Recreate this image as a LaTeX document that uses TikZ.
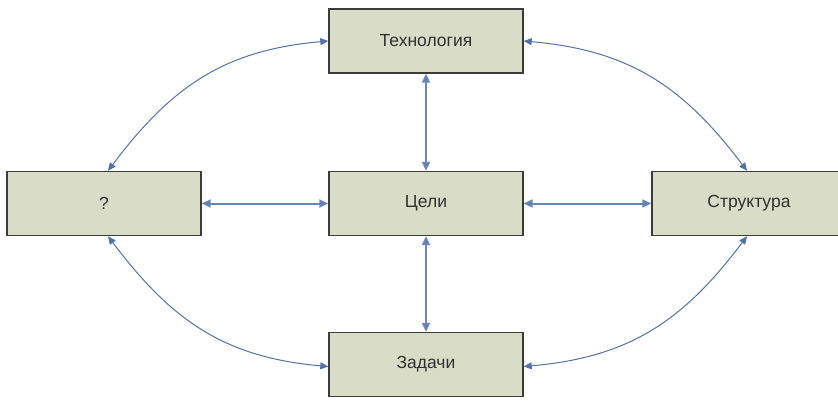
\documentclass[tikz,border=0pt]{standalone}
\usepackage{fontspec}
\setmainfont{Liberation Sans}
\usetikzlibrary{arrows.meta,shadows}
\definecolor{boxfill}{HTML}{D9DCC6}
\definecolor{boxdraw}{HTML}{3C3C3C}
\definecolor{arrowc}{HTML}{5572A8}
\definecolor{linkc}{HTML}{6A86B8}
\definecolor{txt}{HTML}{303030}
\tikzset{
  box/.style={draw=boxdraw, line width=1.4pt, fill=boxfill, minimum width=194pt, minimum height=64pt,
    inner sep=0pt, font=\fontsize{17.5}{19}\selectfont, text=txt,
    drop shadow={shadow xshift=0.8pt, shadow yshift=-0.8pt, opacity=0.35, fill=black}},
  link/.style={draw=linkc, line width=2pt, {Triangle[length=9pt,width=8pt,fill=arrowc]}-{Triangle[length=9pt,width=8pt,fill=arrowc]}},
  arc/.style={draw=arrowc, line width=1pt, {Triangle[length=8pt,width=7pt]}-{Triangle[length=8pt,width=7pt]}}
}
\begin{document}
\begin{tikzpicture}[x=1pt,y=1pt]
\useasboundingbox (0,0) rectangle (838,400);
\fill[white] (0,0) rectangle (838,400);
\begin{scope}
\clip (0,0) rectangle (838,400);
\node[box] (tech) at (426,359) {Технология};
\node[box] (goal) at (426,196.5) {Цели};
\node[box] (q) at (104,196.5) {?};
\node[box] (str) at (749,196.5) {Структура};
\node[box] (task) at (426,35.5) {Задачи};
\end{scope}
\draw[link] (tech.south) -- (goal.north);
\draw[link] (goal.south) -- (task.north);
\draw[link] (q.east) -- (goal.west);
\draw[link] (goal.east) -- (str.west);
\draw[arc] (tech.west) to[out=185,in=53,looseness=1.05] ([xshift=4pt]q.north);
\draw[arc] (tech.east) to[out=-5,in=127,looseness=1.05] ([xshift=-2pt]str.north);
\draw[arc] ([xshift=4pt]q.south) to[out=-53,in=175,looseness=1.05] ([yshift=-2pt]task.west);
\draw[arc] ([xshift=-2pt]str.south) to[out=-127,in=5,looseness=1.05] ([yshift=-2pt]task.east);
\end{tikzpicture}
\end{document}
